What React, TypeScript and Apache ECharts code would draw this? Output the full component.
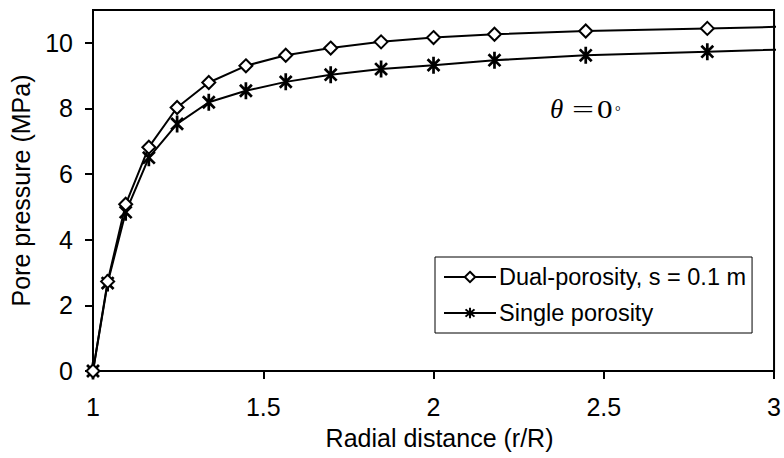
import React, { useEffect, useRef } from "react";
import * as echarts from "echarts";

const radialDistance = [1, 1.043, 1.096, 1.164, 1.247, 1.34, 1.449, 1.566, 1.698, 1.846, 2.0, 2.179, 2.447, 2.804, 3.2];
const dualPorosity = [0, 2.73, 5.08, 6.82, 8.03, 8.79, 9.3, 9.62, 9.84, 10.03, 10.16, 10.26, 10.36, 10.44, 10.53];
const singlePorosity = [0, 2.68, 4.84, 6.5, 7.53, 8.19, 8.54, 8.81, 9.03, 9.2, 9.32, 9.47, 9.62, 9.73, 9.85];
const yTickValues = [0, 2, 4, 6, 8, 10];
const seriesNames = ["Dual-porosity, s = 0.1 m", "Single porosity"];

const FONT = "'Liberation Sans', Arial, sans-serif";
const SERIF = "'Liberation Serif', 'Times New Roman', serif";

const ASTERISK =
  "path://M8.4,0 L11.6,0 L11.6,20 L8.4,20 Z M4.13,1.87 L18.13,15.87 L15.87,18.13 L1.87,4.13 Z M1.87,15.87 L15.87,1.87 L18.13,4.13 L4.13,18.13 Z";

export default function App() {
  const ref = useRef<HTMLDivElement>(null);

  useEffect(() => {
    if (!ref.current) return;
    const chart = echarts.init(ref.current, null, { renderer: "svg" });
    const pair = (ys: number[]) => radialDistance.map((x, i) => [x, ys[i]]);
    const mathText = (text: string, x: number, y: number, size: number, extra: any = {}, italic = false) => ({
      type: "text",
      x,
      y,
      ...extra,
      style: {
        text,
        fontSize: size,
        fontStyle: italic ? "italic" : "normal",
        fontFamily: SERIF,
        fill: "#000",
        verticalAlign: "middle",
        align: "left",
      },
    });
    chart.setOption({
      animation: false,
      backgroundColor: "#fff",
      grid: {
        left: 92,
        right: 7,
        top: 10,
        bottom: 87,
        show: true,
        borderColor: "#000",
        borderWidth: 2,
        backgroundColor: "transparent",
      },
      xAxis: {
        type: "value",
        min: 1,
        max: 3,
        interval: 0.5,
        name: "Radial distance (r/R)",
        nameLocation: "middle",
        nameGap: 54,
        nameTextStyle: { color: "#000", fontSize: 25, fontFamily: FONT, padding: [0, 0, 0, 12] },
        axisLine: { lineStyle: { color: "#000", width: 2 } },
        axisTick: { show: true, inside: false, length: 8, lineStyle: { color: "#000", width: 2 } },
        axisLabel: { color: "#000", fontSize: 25, fontFamily: FONT, margin: 23 },
        splitLine: { show: false },
      },
      yAxis: {
        type: "value",
        min: 0,
        max: 11,
        interval: 2,
        name: "Pore pressure (MPa)",
        nameLocation: "middle",
        nameGap: 60,
        nameRotate: 90,
        nameTextStyle: { color: "#000", fontSize: 25, fontFamily: FONT },
        axisLine: { show: true, lineStyle: { color: "#000", width: 2 } },
        axisTick: {
          show: true,
          inside: false,
          length: 8,
          lineStyle: { color: "#000", width: 2 },
          customValues: yTickValues,
        },
        axisLabel: {
          color: "#000",
          fontSize: 25,
          fontFamily: FONT,
          margin: 20,
          customValues: yTickValues,
        },
        splitLine: { show: false },
      },
      legend: {
        orient: "vertical",
        left: 435,
        top: 257,
        backgroundColor: "#fff",
        borderColor: "#000",
        borderWidth: 1,
        borderRadius: 0,
        padding: [8, 6, 8, 8],
        itemWidth: 52,
        itemHeight: 13,
        itemGap: 12,
        textStyle: { color: "#000", fontSize: 23.5, fontFamily: FONT, padding: [0, 0, 0, -2] },
        data: seriesNames,
      },
      graphic: [
        mathText("θ", 550, 109, 27, {}, true),
        mathText("=", 572, 109, 26, { scaleX: 1.5 }),
        mathText("0", 597, 109, 26, { scaleX: 1.2 }),
        mathText("°", 615, 111, 14),
      ],
      series: [
        {
          name: seriesNames[0],
          type: "line",
          data: pair(dualPorosity),
          clip: false,
          color: "#000",
          symbol: "emptyDiamond",
          symbolSize: 13,
          lineStyle: { color: "#000", width: 2 },
          itemStyle: { color: "#000", borderColor: "#000", borderWidth: 2 },
          z: 3,
        },
        {
          name: seriesNames[1],
          type: "line",
          data: pair(singlePorosity),
          clip: false,
          color: "#000",
          symbol: ASTERISK,
          symbolSize: 17,
          symbolKeepAspect: true,
          lineStyle: { color: "#000", width: 2 },
          itemStyle: { color: "#000", borderWidth: 0 },
          z: 2,
        },
      ],
    });
    return () => chart.dispose();
  }, []);

  return (
    <div
      ref={ref}
      style={{ position: "fixed", left: 0, top: 0, width: 784, height: 458, background: "#fff" }}
    />
  );
}
